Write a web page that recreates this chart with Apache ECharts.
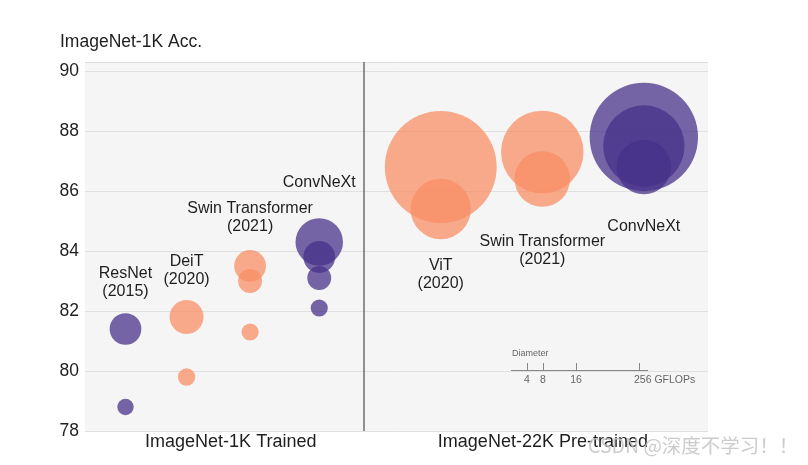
<!DOCTYPE html>
<html><head><meta charset="utf-8">
<script src="https://cdn.jsdelivr.net/npm/echarts@6/dist/echarts.min.js"></script>
<style>html,body{margin:0;padding:0;background:#fff}#c{width:808px;height:465px}</style>
</head><body><div id="c"></div>
<script>
// x positions are on a 0-100 horizontal scale; y = ImageNet-1K top-1 accuracy; g = GFLOPs (bubble diameter)
const transformerX = [16.3, 16.3, 26.5, 26.5, 26.5, 57.1, 57.1, 73.4, 73.4];
const transformerY = [81.8, 79.8, 83.5, 83.0, 81.3, 86.8, 85.4, 87.3, 86.4];
const transformerG = [17.6, 4.6, 15.4, 8.7, 4.5, 190.7, 55.5, 103.9, 47.0];

const convnetX = [6.5, 6.5, 37.6, 37.6, 37.6, 37.6, 89.7, 89.7, 89.7];
const convnetY = [81.4, 78.8, 84.3, 83.8, 83.1, 82.1, 87.8, 87.5, 86.8];
const convnetG = [15.3, 4.1, 34.4, 15.4, 8.7, 4.5, 179.0, 101.0, 45.1];

const labelTexts = ['ResNet\n(2015)', 'DeiT\n(2020)', 'Swin Transformer\n(2021)', 'ConvNeXt',
                    'ViT\n(2020)', 'Swin Transformer\n(2021)', 'ConvNeXt'];
const labelX = [6.5, 16.3, 26.5, 37.6, 57.1, 73.4, 89.7];
const labelY = [82.94, 83.34, 85.12, 86.29, 83.21, 84.01, 84.82];

const groupNames = ['ImageNet-1K Trained', 'ImageNet-22K Pre-trained'];
const groupX = [23.4, 73.5];
const dividerX = 44.8;
const yTicks = [78, 80, 82, 84, 86, 88, 90];

const legendTicks = ['4', '8', '16', '256 GFLOPs'];

const chart = echarts.init(document.getElementById('c'));
const sizeOf = v => 8.1 * Math.sqrt(v[2]);
const font = 'Liberation Sans, Arial, sans-serif';

const legendTickX = [527, 543, 576, 639];
const legendGraphics = [];
legendTickX.forEach((x, i) => {
  const last = i === legendTickX.length - 1;
  legendGraphics.push({ type: 'line', shape: { x1: x + 0.5, y1: 363, x2: x + 0.5, y2: 370 }, style: { stroke: '#888', lineWidth: 1 } });
  legendGraphics.push({ type: 'text', x: last ? x - 5 : x, y: 380, style: { text: legendTicks[i], fontFamily: font, fontSize: 10.5, fill: '#666', align: last ? 'left' : 'center', verticalAlign: 'middle' } });
});

chart.setOption({
  animation: false,
  backgroundColor: '#ffffff',
  grid: { left: 85, right: 100, top: 62, bottom: 34, show: true, backgroundColor: '#f5f5f5', borderWidth: 0 },
  title: { text: 'ImageNet-1K Acc.', left: 55, top: 28, textStyle: { fontFamily: font, fontSize: 17.5, fontWeight: 'normal', color: '#1e1e1e' } },
  xAxis: {
    type: 'value', min: 0, max: 100,
    axisLine: { show: false }, axisTick: { show: false }, splitLine: { show: false },
    axisLabel: {
      customValues: groupX, margin: 2,
      formatter: v => { const i = groupX.indexOf(v); return i >= 0 ? groupNames[i] : ''; },
      fontFamily: font, fontSize: 18, color: '#1e1e1e'
    }
  },
  yAxis: {
    type: 'value', min: 78, max: 90.3, interval: 2,
    axisLine: { show: false }, axisTick: { show: false },
    axisLabel: {
      customValues: yTicks, margin: 6,
      fontFamily: font, fontSize: 17.5, color: '#1e1e1e'
    },
    splitLine: { show: true, lineStyle: { color: '#e0e0e0', width: 1 } }
  },
  series: [
    {
      type: 'scatter', name: 'transformers',
      data: transformerX.map((x, i) => [x, transformerY[i], transformerG[i]]),
      symbolSize: sizeOf,
      itemStyle: { color: 'rgb(248,141,100)', opacity: 0.74, borderWidth: 0 },
      markLine: {
        silent: true, symbol: 'none', label: { show: false },
        lineStyle: { color: '#6e6e6e', width: 1.5, type: 'solid' },
        data: [{ xAxis: dividerX }]
      },
      z: 2
    },
    {
      type: 'scatter', name: 'convnets',
      data: convnetX.map((x, i) => [x, convnetY[i], convnetG[i]]),
      symbolSize: sizeOf,
      itemStyle: { color: 'rgb(70,48,138)', opacity: 0.74, borderWidth: 0 },
      z: 2
    },
    {
      type: 'scatter', name: 'labels', silent: true,
      data: labelX.map((x, i) => ({ value: [x, labelY[i]], label: { formatter: labelTexts[i] } })),
      symbolSize: 1,
      itemStyle: { opacity: 0 },
      label: { show: true, position: 'inside', opacity: 1, fontFamily: font, fontSize: 16, lineHeight: 18, color: '#1e1e1e', align: 'center', verticalAlign: 'middle' },
      z: 5
    }
  ],
  graphic: [
    { type: 'text', left: 512, top: 349, style: { text: 'Diameter', fontFamily: font, fontSize: 9, fill: '#666' } },
    { type: 'line', shape: { x1: 511, y1: 370.5, x2: 648, y2: 370.5 }, style: { stroke: '#888', lineWidth: 1 } },
    ...legendGraphics,
    { type: 'text', left: 588, top: 436, z: 100, style: { text: 'CSDN @深度不学习！！', fontFamily: 'Noto Sans CJK SC, sans-serif', fontSize: 19.5, fill: 'rgba(195,195,195,0.85)' } }
  ]
});
</script></body></html>
